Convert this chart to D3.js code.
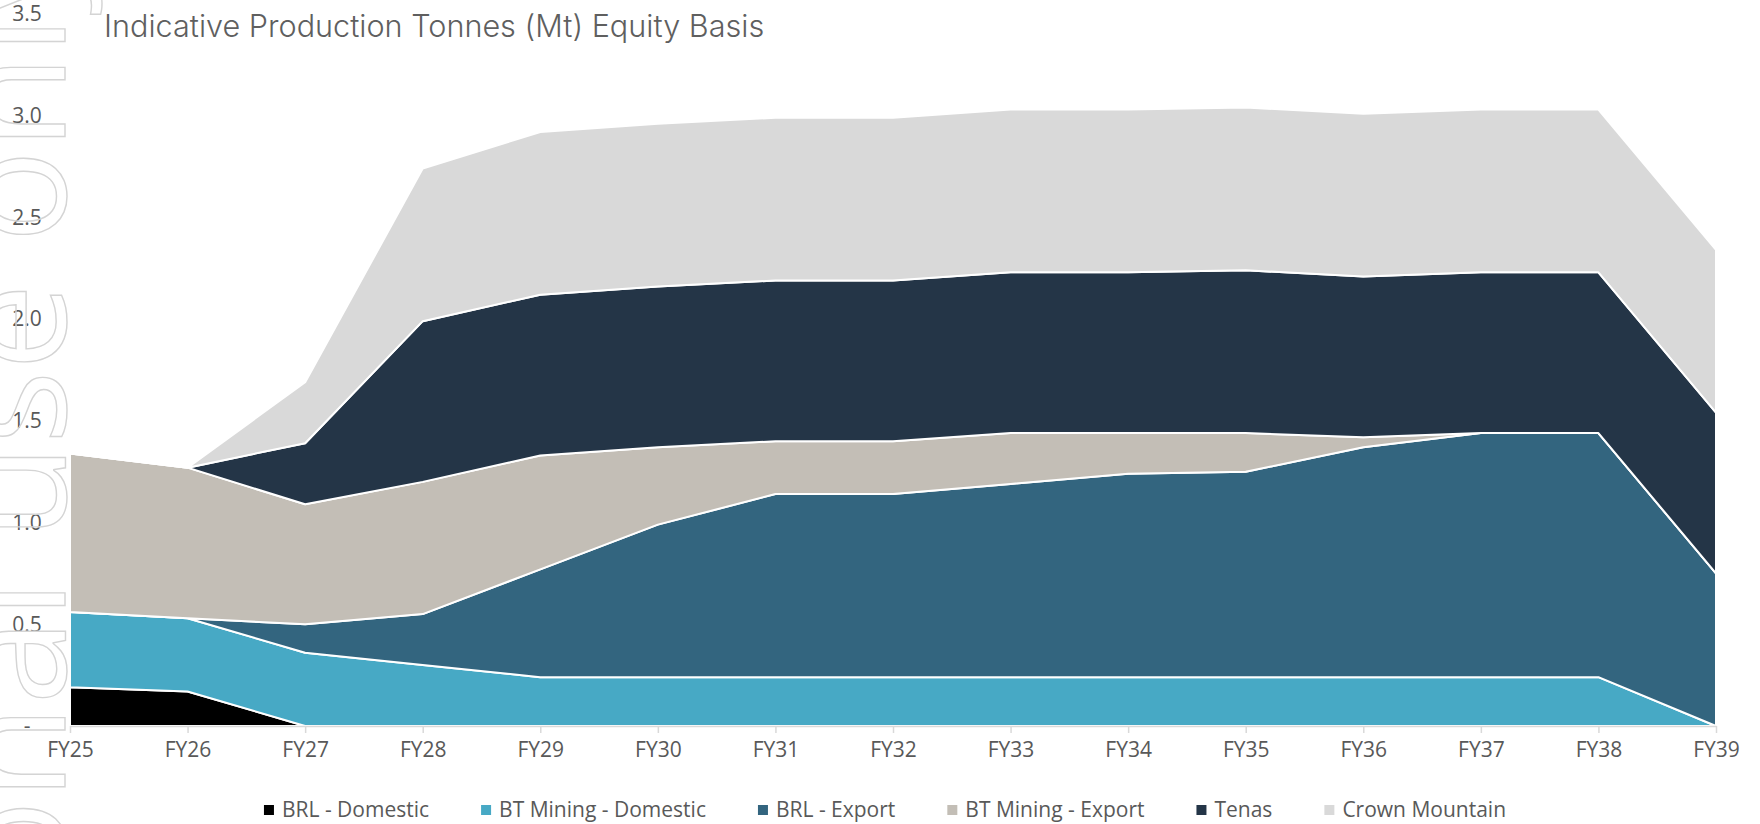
<!DOCTYPE html>
<html>
<head>
<meta charset="utf-8">
<script src="https://cdn.jsdelivr.net/npm/d3@7"></script>
<style>
  html, body { margin: 0; padding: 0; background: #ffffff; }
  svg { display: block; }
</style>
</head>
<body>
<svg id="chart" width="1760" height="824"></svg>
<script>
// ---------------- DATA ----------------
const categories = ["FY25","FY26","FY27","FY28","FY29","FY30","FY31","FY32","FY33","FY34","FY35","FY36","FY37","FY38","FY39"];
const seriesNames = ["BRL - Domestic","BT Mining - Domestic","BRL - Export","BT Mining - Export","Tenas","Crown Mountain"];
const brlDomestic      = [0.19, 0.17, 0, 0, 0, 0, 0, 0, 0, 0, 0, 0, 0, 0, 0];
const btMiningDomestic = [0.37, 0.36, 0.36, 0.30, 0.24, 0.24, 0.24, 0.24, 0.24, 0.24, 0.24, 0.24, 0.24, 0.24, 0];
const brlExport        = [0, 0, 0.14, 0.25, 0.53, 0.75, 0.90, 0.90, 0.95, 1.00, 1.01, 1.13, 1.20, 1.20, 0.75];
const btMiningExport   = [0.78, 0.74, 0.59, 0.65, 0.56, 0.38, 0.26, 0.26, 0.25, 0.20, 0.19, 0.05, 0, 0, 0];
const tenas            = [0, 0, 0.30, 0.79, 0.79, 0.79, 0.79, 0.79, 0.79, 0.79, 0.80, 0.79, 0.79, 0.79, 0.79];
const crownMountain    = [0, 0, 0.30, 0.75, 0.80, 0.80, 0.80, 0.80, 0.80, 0.80, 0.80, 0.80, 0.80, 0.80, 0.80];
const yTickValues = [0, 0.5, 1.0, 1.5, 2.0, 2.5, 3.0, 3.5];
const yTickLabels = ["-", "0.5", "1.0", "1.5", "2.0", "2.5", "3.0", "3.5"];
const titleText = "Indicative Production Tonnes (Mt) Equity Basis";
const watermarkText = "For personal use only";

// ---------------- STYLE ----------------
const colors = ["#000000", "#47A9C5", "#33657F", "#C3BEB6", "#243547", "#D9D9D9"];
const labelFont = "'Open Sans', 'Noto Sans', sans-serif";
const labelColor = "#595959";

const svg = d3.select("#chart");

// table for stack
const seriesValues = [brlDomestic, btMiningDomestic, brlExport, btMiningExport, tenas, crownMountain];
const table = categories.map((c, i) => {
  const row = { cat: c };
  seriesNames.forEach((s, k) => { row[s] = seriesValues[k][i]; });
  return row;
});

const x = d3.scalePoint().domain(categories).range([70, 1716]);
const y = d3.scaleLinear().domain([0, 3.5]).range([726, 14]);

const stack = d3.stack().keys(seriesNames);
const layers = stack(table);

const area = d3.area()
  .x(d => x(d.data.cat))
  .y0(d => y(d[0]))
  .y1(d => y(d[1]))
  .curve(d3.curveLinear);

const plot = svg.append("g");
plot.selectAll("path.layer")
  .data(layers)
  .join("path")
  .attr("class", "layer")
  .attr("d", area)
  .attr("fill", (d, i) => colors[i])
  .attr("stroke", "#ffffff")
  .attr("stroke-width", 2)
  .attr("stroke-linejoin", "round");

// X axis
const xAxis = d3.axisBottom(x).tickSize(7).tickPadding(10).tickSizeOuter(0);
const gx = svg.append("g").attr("transform", "translate(0,726)").call(xAxis);
gx.select(".domain").attr("stroke", "#D9D9D9").attr("stroke-width", 1.5);
gx.selectAll(".tick line").attr("stroke", "#D9D9D9").attr("stroke-width", 1.5);
gx.selectAll(".tick text")
  .attr("fill", labelColor)
  .style("font-family", labelFont)
  .style("font-size", "21px")
  .attr("dy", "0")
  .attr("y", 31);

// Y axis (labels only)
const yAxis = d3.axisLeft(y).tickValues(yTickValues)
  .tickFormat((d, i) => yTickLabels[i]).tickSize(0).tickPadding(0);
const gy = svg.append("g").attr("transform", "translate(27,0)").call(yAxis);
gy.select(".domain").remove();
gy.selectAll(".tick text")
  .attr("fill", labelColor)
  .attr("text-anchor", "middle")
  .attr("x", 0)
  .style("font-family", labelFont)
  .style("font-size", "21px");

// Title
svg.append("text")
  .attr("x", 104)
  .attr("y", 37)
  .attr("fill", "#5f5f5f")
  .style("font-family", "Inter, Roboto, sans-serif")
  .style("font-weight", 300)
  .style("font-size", "30.6px")
  .text(titleText);

// Legend
const legend = svg.append("g").attr("transform", "translate(0,810)");
const items = legend.selectAll("g.item")
  .data(seriesNames)
  .join("g").attr("class", "item");
items.append("rect")
  .attr("width", 10).attr("height", 10)
  .attr("y", -5)
  .attr("fill", (d, i) => colors[i]);
items.append("text")
  .attr("x", 18)
  .attr("y", 7)
  .attr("fill", labelColor)
  .style("font-family", labelFont)
  .style("font-size", "21px")
  .text(d => d);
let widths = [];
items.each(function() { widths.push(18 + this.querySelector("text").getComputedTextLength()); });
const gap = 52;
const total = d3.sum(widths) + gap * (widths.length - 1);
let cx = 885 - total / 2;
items.attr("transform", (d, i) => {
  const t = `translate(${cx},0)`;
  cx += widths[i] + gap;
  return t;
});

// Watermark (outlined, rotated)
svg.append("text")
  .attr("transform", "translate(65,-62) rotate(-90)")
  .attr("text-anchor", "end")
  .attr("fill", "none")
  .attr("stroke", "#D4D4D4")
  .attr("stroke-width", 1.4)
  .style("font-family", "'Open Sans', sans-serif")
  .style("font-size", "155px")
  .text(watermarkText);
</script>
</body>
</html>
